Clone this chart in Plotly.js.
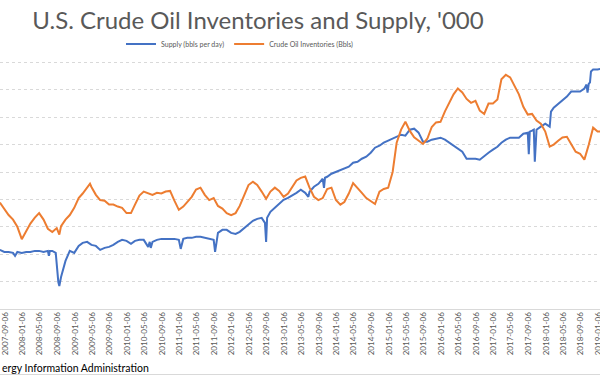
<!DOCTYPE html>
<html><head><meta charset="utf-8">
<script src="https://cdn.plot.ly/plotly-3.0.1.min.js"></script>
<style>html,body{margin:0;padding:0;background:#fff}#chart{width:600px;height:376px}</style>
</head><body><div id="chart"></div>
<script>
const supplyDates = ['2007-08-01','2007-09-01','2007-10-01','2007-11-01','2007-11-15','2007-12-01','2008-01-01','2008-02-01','2008-03-01','2008-04-01','2008-05-01','2008-06-01','2008-07-01','2008-07-08','2008-07-15','2008-08-01','2008-08-25','2008-09-01','2008-09-12','2008-09-19','2008-10-01','2008-11-01','2008-12-01',
'2009-01-01','2009-02-01','2009-03-01','2009-04-01','2009-05-01','2009-06-01','2009-07-01','2009-08-01','2009-09-01','2009-10-01','2009-11-01','2009-12-01',
'2010-01-01','2010-02-01','2010-03-01','2010-04-01','2010-05-01','2010-06-01','2010-06-12','2010-06-19','2010-07-01','2010-08-01','2010-09-01','2010-10-01','2010-11-01','2010-12-01',
'2011-01-01','2011-01-14','2011-02-01','2011-03-01','2011-04-01','2011-05-01','2011-06-01','2011-07-01','2011-08-01','2011-09-01','2011-09-11','2011-10-01','2011-11-01','2011-12-01',
'2012-01-01','2012-02-01','2012-03-01','2012-04-01','2012-05-01','2012-06-01','2012-07-01','2012-08-01','2012-08-24','2012-09-01','2012-09-08','2012-10-01','2012-11-01','2012-12-01',
'2013-01-01','2013-02-01','2013-03-01','2013-04-01','2013-05-01','2013-06-01','2013-06-23','2013-07-01','2013-08-01','2013-09-01','2013-10-01','2013-10-10','2013-10-17','2013-11-01','2013-12-01',
'2014-01-01','2014-02-01','2014-03-01','2014-04-01','2014-05-01','2014-06-01','2014-07-01','2014-08-01','2014-09-01','2014-10-01','2014-11-01','2014-12-01',
'2015-01-01','2015-02-01','2015-03-01','2015-04-01','2015-05-01','2015-06-01','2015-07-01','2015-08-01','2015-09-01','2015-10-01','2015-11-01','2015-12-01',
'2016-01-01','2016-02-01','2016-03-01','2016-04-01','2016-05-01','2016-06-01','2016-07-01','2016-08-01','2016-09-01','2016-10-01','2016-11-01','2016-12-01',
'2017-01-01','2017-02-01','2017-03-01','2017-04-01','2017-05-01','2017-06-01','2017-07-01','2017-08-01','2017-09-01','2017-09-08','2017-09-15','2017-10-01','2017-10-13','2017-10-20','2017-10-27','2017-11-01','2017-12-01',
'2018-01-01','2018-02-01','2018-02-10','2018-03-01','2018-04-01','2018-05-01','2018-06-01','2018-07-01','2018-08-01','2018-09-01','2018-10-01','2018-10-16','2018-10-23','2018-11-01','2018-11-09','2018-11-16','2018-12-01',
'2019-01-01','2019-02-01'];
const supplyValues = [5157,5084,5084,5048,4938,5084,5048,5084,5084,5121,5121,5084,5121,4938,5121,5121,5048,4609,3987,3841,4170,4755,5121,
5048,5303,5413,5450,5340,5303,5157,5230,5267,5340,5450,5523,
5486,5377,5486,5523,5523,5267,5450,5230,5450,5523,5559,5559,5559,5559,
5523,5194,5559,5596,5596,5633,5633,5596,5559,5523,5084,5779,5888,5888,
5779,5742,5815,5962,6071,6218,6291,6327,6144,5450,6327,6547,6693,6839,
6985,7058,7132,7241,7351,7241,7095,7278,7461,7570,7753,7424,7790,7826,7936,
8009,8082,8119,8192,8338,8375,8484,8558,8704,8887,8960,9069,
9143,9216,9289,9362,9325,9545,9581,9435,9106,9106,9179,9216,
9252,9179,9069,8960,8850,8740,8484,8484,8484,8448,8594,8704,
8814,8923,9069,9179,9252,9252,9252,9399,9435,8650,9472,9508,9545,8375,9545,9545,9654,
9764,9654,10203,10349,10495,10605,10751,10934,10934,10934,11044,11190,10898,11226,11263,11665,11739,
11739,11775];

const inventoryDates = ['2007-08-01','2007-09-01','2007-10-01','2007-11-01','2007-12-01','2008-01-01','2008-02-01','2008-03-01','2008-04-01','2008-05-01','2008-06-01','2008-07-01','2008-08-01','2008-09-01','2008-09-19','2008-10-01','2008-11-01','2008-12-01',
'2009-01-01','2009-02-01','2009-03-01','2009-04-01','2009-04-21','2009-05-01','2009-06-01','2009-07-01','2009-08-01','2009-09-01','2009-10-01','2009-11-01','2009-12-01',
'2010-01-01','2010-02-01','2010-03-01','2010-04-01','2010-05-01','2010-06-01','2010-07-01','2010-08-01','2010-09-01','2010-10-01','2010-11-01','2010-12-01',
'2011-01-01','2011-02-01','2011-03-01','2011-04-01','2011-05-01','2011-06-01','2011-07-01','2011-08-01','2011-09-01','2011-10-01','2011-11-01','2011-12-01',
'2012-01-01','2012-02-01','2012-03-01','2012-04-01','2012-05-01','2012-06-01','2012-07-01','2012-08-01','2012-09-01','2012-10-01','2012-11-01','2012-12-01',
'2013-01-01','2013-02-01','2013-03-01','2013-04-01','2013-05-01','2013-06-01','2013-07-01','2013-08-01','2013-09-01','2013-10-01','2013-11-01','2013-12-01',
'2014-01-01','2014-02-01','2014-03-01','2014-04-01','2014-05-01','2014-06-01','2014-07-01','2014-08-01','2014-09-01','2014-10-01','2014-11-01','2014-12-01',
'2015-01-01','2015-02-01','2015-03-01','2015-04-01','2015-05-01','2015-06-01','2015-07-01','2015-08-01','2015-09-01','2015-10-01','2015-11-01','2015-12-01',
'2016-01-01','2016-02-01','2016-03-01','2016-04-01','2016-05-01','2016-06-01','2016-07-01','2016-08-01','2016-09-01','2016-10-01','2016-11-01','2016-12-01',
'2017-01-01','2017-02-01','2017-03-01','2017-04-01','2017-05-01','2017-06-01','2017-07-01','2017-08-01','2017-09-01','2017-10-01','2017-11-01','2017-12-01',
'2018-01-01','2018-02-01','2018-03-01','2018-04-01','2018-05-01','2018-06-01','2018-07-01','2018-08-01','2018-09-01','2018-10-01','2018-11-01','2018-12-01',
'2019-01-01','2019-02-01'];
const inventoryValues = [343000,334000,324000,317000,306000,287000,300000,311000,320000,327000,317000,303000,298000,304000,294000,307000,317000,324000,
335000,350000,357000,366000,372000,367000,355000,347000,346000,340000,340000,337000,335000,
327000,327000,340000,354000,360000,358000,355000,358000,357000,360000,361000,346000,
332000,337000,344000,352000,363000,366000,355000,347000,350000,338000,334000,327000,
324000,327000,338000,355000,370000,375000,370000,360000,349000,360000,366000,361000,
352000,357000,367000,377000,381000,383000,366000,352000,347000,350000,364000,366000,
347000,340000,344000,357000,373000,366000,358000,350000,346000,341000,360000,364000,
366000,390000,435000,455000,467000,453000,443000,438000,433000,441000,459000,466000,
467000,483000,496000,509000,518000,512000,502000,496000,499000,484000,479000,495000,
495000,501000,532000,539000,535000,521000,509000,490000,478000,479000,469000,464000,
452000,429000,432000,438000,443000,444000,433000,421000,418000,409000,432000,458000,
452000,452000];

const titleText = "U.S. Crude Oil Inventories and Supply, '000";
const supplyName = 'Supply (bbls per day)';
const inventoryName = 'Crude Oil Inventories (Bbls)';
const sourceText = 'ergy Information Administration';

const traces = [
  {x: supplyDates, y: supplyValues, name: supplyName, type: 'scatter', mode: 'lines',
   line: {color: '#4472C4', width: 2}, yaxis: 'y', hoverinfo: 'skip'},
  {x: inventoryDates, y: inventoryValues, name: inventoryName, type: 'scatter', mode: 'lines',
   line: {color: '#ED7D31', width: 2}, yaxis: 'y2', hoverinfo: 'skip'}
];

const layout = {
  width: 600, height: 376,
  margin: {l: 0, r: 0, t: 35, b: 67, pad: 0},
  paper_bgcolor: '#ffffff', plot_bgcolor: '#ffffff',
  font: {family: 'Lato, "Liberation Sans", sans-serif', color: '#595959'},
  title: {text: titleText, font: {family: 'Lato, sans-serif', size: 24, color: '#595959'},
          x: 0.43, xanchor: 'center', xref: 'paper', y: 0.945, yref: 'container', yanchor: 'middle'},
  showlegend: true,
  legend: {orientation: 'h', x: 0.40, xanchor: 'center', y: 0.967, yanchor: 'middle',
           bgcolor: 'rgba(0,0,0,0)', font: {size: 7, color: '#595959'}, itemwidth: 30, tracegroupgap: 0},
  xaxis: {type: 'date', range: ['2007-08-02', '2019-01-18'], tick0: '2007-09-06', dtick: 'M4',
          tickformat: '%Y-%m-%d', tickangle: -90, tickfont: {size: 8, color: '#595959'},
          showgrid: false, zeroline: false, showline: true, linecolor: '#d9d9d9', linewidth: 1,
          ticks: '', ticklabelstandoff: -1, ticklabeloverflow: 'allow', automargin: false, fixedrange: true},
  yaxis: {range: [3000, 13000], dtick: 1000, showticklabels: false, showgrid: true,
          gridcolor: '#d9d9d9', griddash: 'dot', gridwidth: 1, zeroline: false, showline: false,
          ticks: '', automargin: false, fixedrange: true},
  yaxis2: {range: [180000, 600000], overlaying: 'y', side: 'right', showticklabels: false,
           showgrid: false, zeroline: false, showline: false, ticks: '', automargin: false, fixedrange: true},
  annotations: [{text: sourceText, xref: 'paper', yref: 'paper', x: 0, xanchor: 'left',
                 y: -0.215, yanchor: 'middle', showarrow: false,
                 font: {family: 'Lato, sans-serif', size: 10.5, color: '#000000'}}],
  shapes: [{type: 'line', xref: 'paper', yref: 'paper', x0: 0, x1: 1, y0: -0.239, y1: -0.239,
            line: {color: '#d9d9d9', width: 1}}]
};

Plotly.newPlot('chart', traces, layout, {displayModeBar: false, staticPlot: true});
</script></body></html>
